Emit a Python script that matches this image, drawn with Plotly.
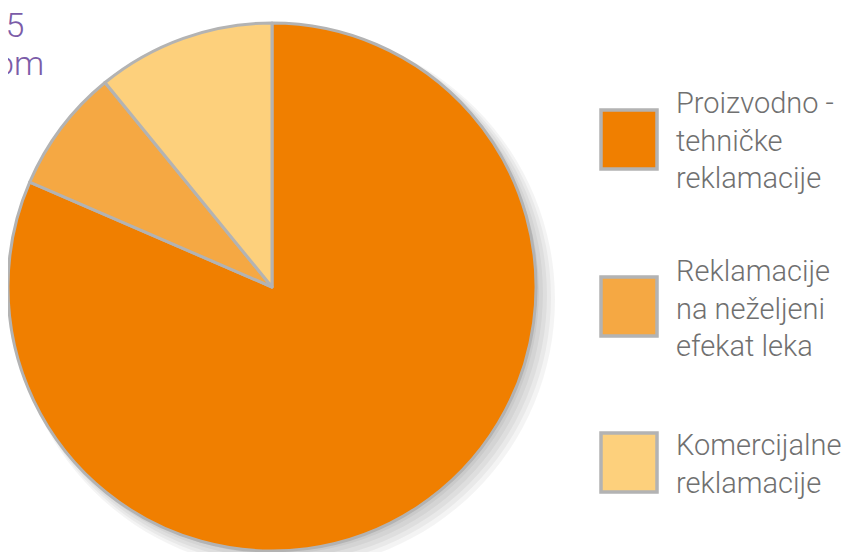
import plotly.graph_objects as go

categories = ["Proizvodno -<br>tehničke<br>reklamacije",
              "Reklamacije<br>na neželjeni<br>efekat leka",
              "Komercijalne<br>reklamacije"]
values = [81.5, 7.6, 10.9]
colors = ["#F07F00", "#F5A843", "#FDD07C"]
title_lines = ["Reklamacije u 2015", "u poređenju sa 2014. godinom"]

W, H = 857, 552
OFF = 8  # page body margin
cx, cy, r = 272 - OFF, 287 - OFF, 264


def px(x):
    return x / W


def py(y):
    return 1 - y / H


fig = go.Figure()

# soft shadow behind the pie (decoration)
shapes = []
for i in range(5):
    g = 3 + i * 4
    shapes.append(dict(type="circle", xref="paper", yref="paper", layer="below",
                       x0=px(cx - r + 6), x1=px(cx + r + g),
                       y0=py(cy + r + g), y1=py(cy - r + 6),
                       fillcolor="rgba(0,0,0,0.045)", line=dict(width=0)))

fig.add_trace(go.Pie(
    labels=categories, values=values, sort=False, direction="clockwise", rotation=0,
    marker=dict(colors=colors, line=dict(color="#B3B3B3", width=3)),
    textinfo="none", hoverinfo="label+percent", showlegend=False,
    domain=dict(x=[max(0, px(cx - r)), px(cx + r)], y=[py(cy + r), py(cy - r)]),
))

# custom legend (large squares)
sq_tops = [110, 277, 433]
annotations = []
for cat, col, top in zip(categories, colors, sq_tops):
    t = top - OFF
    shapes.append(dict(type="rect", xref="paper", yref="paper",
                       x0=px(601 - OFF), x1=px(657 - OFF), y0=py(t + 59), y1=py(t),
                       fillcolor=col, line=dict(color="#B3B3B3", width=3.5)))
    annotations.append(dict(text=cat, xref="paper", yref="paper", x=px(674 - OFF),
                            y=py(t + 31), xanchor="left", yanchor="middle",
                            align="left", showarrow=False,
                            font=dict(family="Roboto", size=29, color="#707070", weight=300)))

# cropped title at the top-left
for line, xr, ym in zip(title_lines, [26, 46], [25, 63]):
    annotations.append(dict(text=line, xref="paper", yref="paper", x=px(xr - OFF), y=py(ym - OFF),
                            xanchor="right", yanchor="middle", showarrow=False,
                            font=dict(family="Roboto", size=34, color="#7B5CA8", weight=300)))

fig.update_layout(width=W, height=H, margin=dict(l=0, r=0, t=0, b=0),
                  paper_bgcolor="white", plot_bgcolor="white",
                  shapes=shapes, annotations=annotations)

fig.write_html("out.html")
